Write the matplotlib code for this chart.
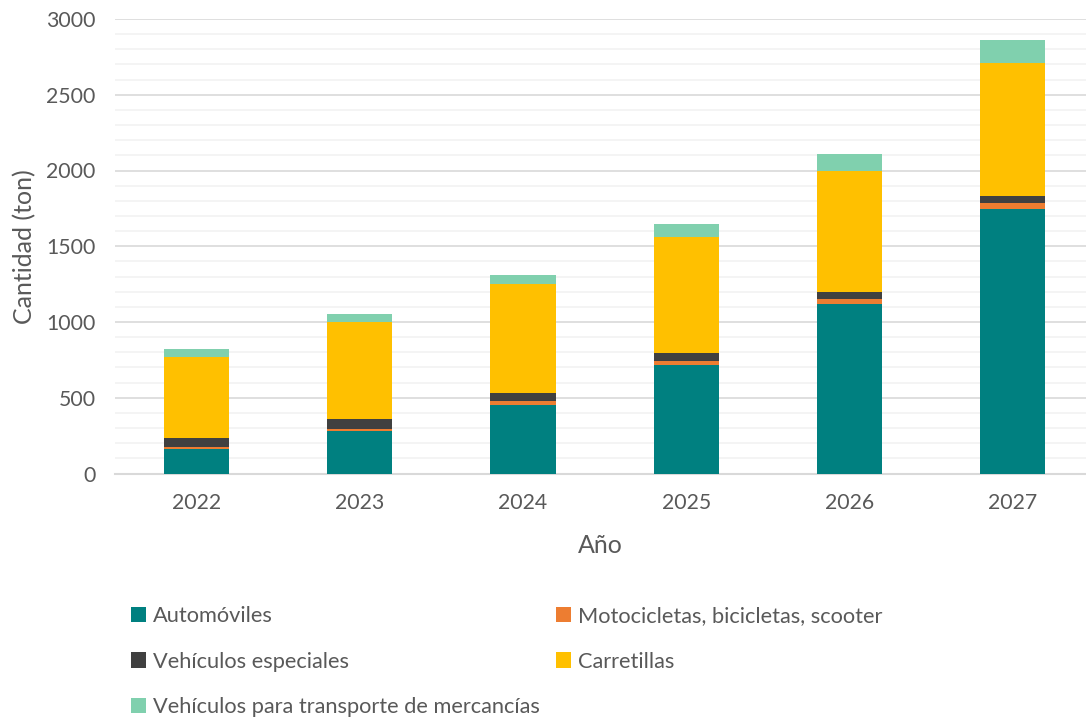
import matplotlib.pyplot as plt
from matplotlib.patches import Patch
from matplotlib.ticker import MultipleLocator

# Cantidades por año y por tipo de vehículo (ton)
anios = ['2022', '2023', '2024', '2025', '2026', '2027']
automoviles = [160, 280, 454, 718, 1121, 1746]
motocicletas = [13, 16, 23, 26, 31, 41]
especiales = [61, 62, 56, 49, 48, 46]
carretillas = [537, 640, 716, 770, 797, 874]
mercancias = [49, 53, 63, 84, 112, 152]

series = [
    ('Automóviles', automoviles, '#008080'),
    ('Motocicletas, bicicletas, scooter', motocicletas, '#ED7D31'),
    ('Vehículos especiales', especiales, '#404040'),
    ('Carretillas', carretillas, '#FFC000'),
    ('Vehículos para transporte de mercancías', mercancias, '#80D0AE'),
]

plt.rcParams['font.family'] = ['Lato', 'DejaVu Sans']
gris = '#595959'

fig = plt.figure(figsize=(10.86, 7.17), dpi=100)
W, H = 1086, 717
ax = fig.add_axes([115 / W, (H - 473.5) / H, (W - 115) / W, (473.5 - 19) / H])

x = range(len(anios))
base = [0] * len(anios)
for nombre, valores, color in series:
    ax.bar(x, valores, 0.4, bottom=base, color=color, label=nombre, zorder=3)
    base = [b + v for b, v in zip(base, valores)]

ax.set_ylim(0, 3000)
ax.set_xlim(-0.5, 5.45)
ax.yaxis.set_major_locator(MultipleLocator(500))
ax.yaxis.set_minor_locator(MultipleLocator(100))
ax.grid(which='minor', axis='y', color='#F2F2F2', linewidth=1.2, zorder=0)
ax.grid(which='major', axis='y', color='#D9D9D9', linewidth=1.2, zorder=1)
ax.set_xticks(list(x))
ax.set_xticklabels(anios)
ax.tick_params(which='both', length=0, labelsize=15.3, labelcolor=gris)
ax.tick_params(axis='x', pad=14)
ax.tick_params(axis='y', pad=14)
for lado in ['top', 'right', 'left']:
    ax.spines[lado].set_visible(False)
ax.spines['bottom'].set_color('#D9D9D9')
ax.spines['bottom'].set_linewidth(1.5)

ax.set_xlabel('Año', fontsize=18, color=gris, labelpad=15)
ax.set_ylabel('Cantidad (ton)', fontsize=18, color=gris, labelpad=7)

# Leyenda en dos columnas, rellenada por columnas
orden = [0, 2, 4, 1, 3]
handles = [Patch(facecolor=series[i][2], label=series[i][0]) for i in orden]
fig.legend(handles=handles, ncol=2, loc='upper left', bbox_to_anchor=(131 / W, 1 - 606 / H),
           frameon=False, fontsize=15.7, labelcolor=gris, handlelength=0.7, handleheight=0.7,
           handletextpad=0.3, columnspacing=0.75, labelspacing=1.17, borderaxespad=0,
           borderpad=0)

fig.savefig('out.png', dpi=100)
